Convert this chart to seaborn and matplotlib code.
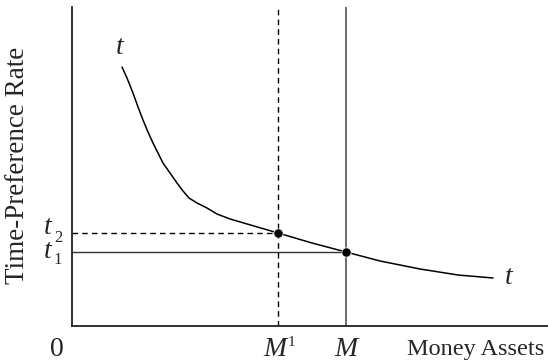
import matplotlib

matplotlib.use("agg")
import matplotlib.pyplot as plt
import pandas as pd
import seaborn as sns

# time-preference curve (x = money assets, y = rate)
CURVE_X = [50, 55, 61, 66, 71, 76, 81, 86, 91, 98, 105, 111, 117, 125, 135, 145, 158, 182, 206, 240, 274, 308, 348, 386, 421]
CURVE_Y = [259, 248, 233, 219, 206, 194, 183, 173, 163, 153, 143, 135, 128, 123, 118, 112, 107, 100, 93, 83, 74, 65, 57, 51, 48]
POINT_X = [206, 274]
POINT_Y = [93, 74]
M1_X = 206
M_X = 274
T2_Y = 93
T1_Y = 74
X_MAX = 476
Y_MAX = 319

sns.set_theme(style="white")
plt.rcParams["font.family"] = ["Liberation Serif", "DejaVu Serif"]

curve = pd.DataFrame({"money": CURVE_X, "rate": CURVE_Y})
points = pd.DataFrame({"money": POINT_X, "rate": POINT_Y})

fig = plt.figure(figsize=(5.48, 3.62), dpi=100)
ax = fig.add_axes([72 / 548, 36 / 362, 476 / 548, 319 / 362])

sns.lineplot(data=curve, x="money", y="rate", color="black", linewidth=1.1, ax=ax)
ax.plot([0, M1_X], [T2_Y, T2_Y], color="black", linestyle=(0, (4, 3)), linewidth=1.0)
ax.plot([M1_X, M1_X], [0, Y_MAX], color="black", linestyle=(0, (4, 3)), linewidth=1.0)
ax.plot([0, M_X], [T1_Y, T1_Y], color="#333333", linewidth=1.0)
ax.plot([M_X, M_X], [0, Y_MAX], color="#555555", linewidth=1.2)
sns.scatterplot(data=points, x="money", y="rate", color="black", s=45, zorder=5, ax=ax)

ax.set_xlim(0, X_MAX)
ax.set_ylim(0, Y_MAX)
ax.set_xticks([])
ax.set_yticks([])
ax.set_xlabel("")
ax.set_ylabel("")
for side in ["top", "right"]:
    ax.spines[side].set_visible(False)
for side in ["left", "bottom"]:
    ax.spines[side].set_color("#222222")
    ax.spines[side].set_linewidth(1.3)

big = 20
ax.text(48, 279, "t", fontsize=big, style="italic", ha="center", va="center")
ax.text(437, 49, "t", fontsize=big, style="italic", ha="center", va="center")
# t2 / t1 with small subscripts
ax.text(-24, 98, "t", fontsize=big, style="italic", ha="center", va="center")
ax.text(-14, 88, "2", fontsize=12, ha="center", va="center")
ax.text(-24, 75, "t", fontsize=big, style="italic", ha="center", va="center")
ax.text(-14, 66, "1", fontsize=12, ha="center", va="center")

ax.text(-15, -24, "0", fontsize=big, ha="center", va="center")
ax.text(M1_X - 3, -24, "M", fontsize=big, style="italic", ha="center", va="center")
ax.text(M1_X + 13, -17, "1", fontsize=11, ha="center", va="center")
ax.text(M_X, -24, "M", fontsize=big, style="italic", ha="center", va="center")
ax.text(404, -24, "Money Assets", fontsize=17.5, ha="center", va="center")
ax.text(-54, 161, "Time-Preference Rate", fontsize=19.5, rotation=90, ha="center", va="center")

fig.savefig("out.png", dpi=100)
